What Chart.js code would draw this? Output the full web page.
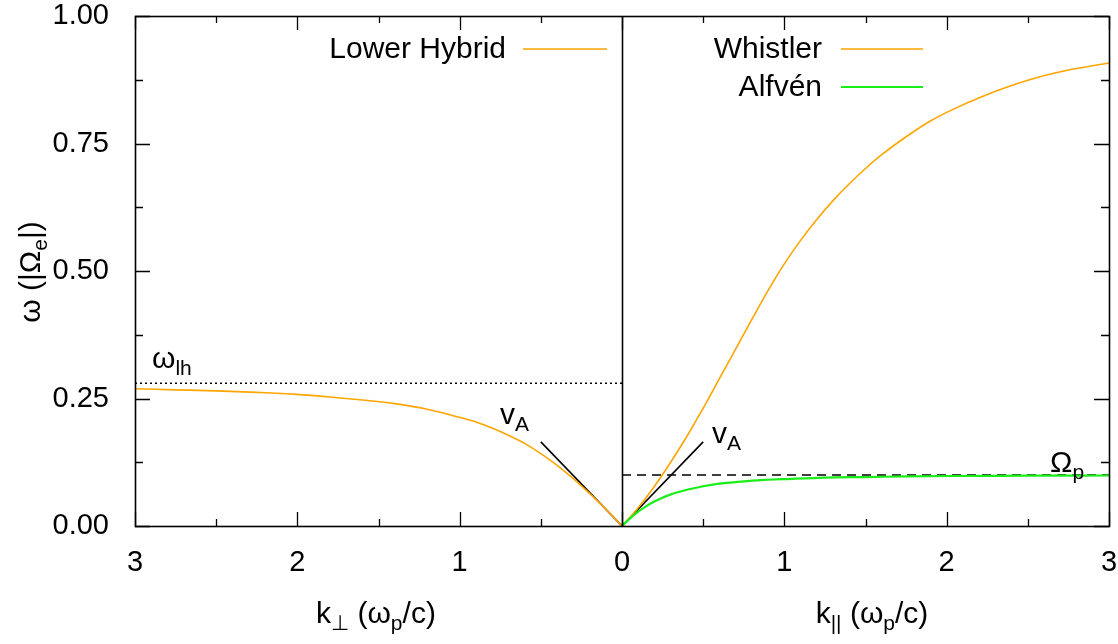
<!DOCTYPE html>
<html lang="en">
<head>
  <meta charset="UTF-8">
  <title>Plasma wave dispersion</title>
  <script src="https://cdn.jsdelivr.net/npm/chart.js@4"></script>
  <style>
    html, body { margin: 0; padding: 0; background: #fff; }
    .wrap { position: relative; width: 1118px; height: 644px; }
  </style>
</head>
<body>
  <div class="wrap"><canvas id="disp"></canvas></div>

  <script>
    // perpendicular branch, drawn on the left half (k mirrored to negative x)
    const kPerp = [0, 0.1, 0.2, 0.3, 0.4, 0.5, 0.6, 0.7, 0.8, 0.9, 1.0, 1.2, 1.4, 1.6, 1.8, 2.0, 2.25, 2.5, 2.75, 3.0];
    const lowerHybrid = [0, 0.033, 0.064, 0.093, 0.119, 0.142, 0.162, 0.178, 0.192, 0.204, 0.213, 0.229, 0.240, 0.247, 0.253, 0.258, 0.262, 0.265, 0.267, 0.269];

    // parallel branches, right half
    const kParW = [0, 0.1, 0.2, 0.3, 0.4, 0.5, 0.6, 0.7, 0.8, 0.9, 1.0, 1.1, 1.2, 1.3, 1.4, 1.5, 1.6, 1.7, 1.8, 1.9, 2.0, 2.25, 2.5, 2.75, 3.0];
    const whistler = [0, 0.036, 0.078, 0.125, 0.176, 0.231, 0.289, 0.347, 0.405, 0.462, 0.514, 0.560, 0.601, 0.638, 0.671, 0.701, 0.728, 0.752, 0.774, 0.794, 0.811, 0.846, 0.874, 0.894, 0.908];

    const kParA = [0, 0.05, 0.1, 0.15, 0.2, 0.3, 0.4, 0.5, 0.6, 0.7, 0.8, 0.9, 1.0, 1.25, 1.5, 1.75, 2.0, 2.5, 3.0];
    const alfven = [0, 0.015, 0.028, 0.039, 0.048, 0.062, 0.071, 0.078, 0.083, 0.086, 0.089, 0.0907, 0.092, 0.095, 0.096, 0.0972, 0.098, 0.0986, 0.099];

    // reference levels and the Alfvén-speed slope segments
    const omegaLH = 0.28;
    const omegaP = 0.1;
    const vAk = [0, 0.5];
    const vAw = [0, 0.165];

    const xRange = [-3, 3];
    const yRange = [0, 1];

    const FONT = '"Liberation Sans", Arial, Helvetica, sans-serif';
    const FS = 30;      // legend, labels, titles
    const TICK_FS = 29; // tick numbers
    const ORANGE = '#ffa500';
    const GREEN = '#19ee19';

    const pts = (xs, ys, sign) => xs.map((x, i) => ({ x: sign * x, y: ys[i] }));

    // text with optional subscripts: parts = [[text, isSub], ...]
    function richWidth(ctx, parts) {
      let w = 0;
      parts.forEach(([t, sub]) => {
        ctx.font = (sub ? Math.round(FS * 0.7) : FS) + 'px ' + FONT;
        w += ctx.measureText(t).width;
      });
      return w;
    }
    function drawRich(ctx, x, y, parts, align) {
      ctx.save();
      ctx.textBaseline = 'alphabetic';
      ctx.textAlign = 'left';
      ctx.fillStyle = '#000';
      let cx = x;
      if (align === 'center') cx -= richWidth(ctx, parts) / 2;
      if (align === 'right') cx -= richWidth(ctx, parts);
      parts.forEach(([t, sub]) => {
        ctx.font = (sub ? Math.round(FS * 0.7) : FS) + 'px ' + FONT;
        ctx.fillText(t, cx, sub ? y + 7 : y);
        cx += ctx.measureText(t).width;
      });
      ctx.restore();
    }

    const framePlugin = {
      id: 'frame',
      afterDraw(chart) {
        const { ctx, chartArea: a, scales: { x, y } } = chart;
        ctx.save();
        ctx.strokeStyle = '#000';
        ctx.lineWidth = 1.3;

        // x ticks (inward, mirrored on top); integers long, halves short
        for (let v = xRange[0]; v <= xRange[1] + 1e-9; v += 0.5) {
          const px = Math.round(x.getPixelForValue(v)) + 0.5;
          const len = Number.isInteger(v) ? 14 : 7;
          ctx.beginPath();
          ctx.moveTo(px, a.bottom); ctx.lineTo(px, a.bottom - len);
          ctx.moveTo(px, a.top); ctx.lineTo(px, a.top + len);
          ctx.stroke();
        }
        // y ticks (inward, mirrored on right)
        for (let v = yRange[0]; v <= yRange[1] + 1e-9; v += 0.125) {
          const py = Math.round(y.getPixelForValue(v)) + 0.5;
          const len = (Math.round(v * 8) % 2 === 0) ? 15 : 8;
          ctx.beginPath();
          ctx.moveTo(a.left, py); ctx.lineTo(a.left + len, py);
          ctx.moveTo(a.right, py); ctx.lineTo(a.right - len, py);
          ctx.stroke();
        }

        // k = 0 divider
        const x0 = Math.round(x.getPixelForValue(0)) + 0.5;
        ctx.lineWidth = 1.6;
        ctx.beginPath();
        ctx.moveTo(x0, a.top); ctx.lineTo(x0, a.bottom);
        ctx.stroke();

        // border
        ctx.lineWidth = 1.6;
        ctx.strokeRect(Math.round(a.left) + 0.5, Math.round(a.top) + 0.5,
          Math.round(a.right - a.left), Math.round(a.bottom - a.top));

        // legend, gnuplot style: label right-aligned, then a line sample
        const leg = [
          { text: 'Lower Hybrid', color: ORANGE, tx: 506, lx: [523, 607], y: 49, w: 1.6 },
          { text: 'Whistler', color: ORANGE, tx: 822, lx: [841, 923], y: 49, w: 1.6 },
          { text: 'Alfvén', color: GREEN, tx: 822, lx: [841, 923], y: 87, w: 2.2 }
        ];
        leg.forEach(l => {
          ctx.font = FS + 'px ' + FONT;
          ctx.fillStyle = '#000';
          ctx.textAlign = 'right';
          ctx.textBaseline = 'middle';
          ctx.fillText(l.text, l.tx, l.y + 1);
          ctx.strokeStyle = l.color;
          ctx.lineWidth = l.w;
          ctx.beginPath();
          ctx.moveTo(l.lx[0], l.y); ctx.lineTo(l.lx[1], l.y);
          ctx.stroke();
        });

        // annotations
        drawRich(ctx, 152, 368, [['ω', false], ['lh', true]]);
        drawRich(ctx, 500, 424, [['v', false], ['A', true]]);
        drawRich(ctx, 712, 443, [['v', false], ['A', true]]);
        drawRich(ctx, 1050, 472, [['Ω', false], ['p', true]]);

        // axis titles
        drawRich(ctx, 376, 623, [['k', false], ['⊥', true], [' (ω', false], ['p', true], ['/c)', false]], 'center');
        drawRich(ctx, 872, 623, [['k', false], ['||', true], [' (ω', false], ['p', true], ['/c)', false]], 'center');
        ctx.save();
        ctx.translate(40, 272);
        ctx.rotate(-Math.PI / 2);
        drawRich(ctx, 0, 0, [['ω (|Ω', false], ['e', true], ['|)', false]], 'center');
        ctx.restore();

        ctx.restore();
      }
    };

    new Chart(document.getElementById('disp'), {
      type: 'line',
      data: {
        datasets: [
          { label: 'Alfvén', data: pts(kParA, alfven, 1), borderColor: GREEN, borderWidth: 2.2, order: 0 },
          { label: 'Whistler', data: pts(kParW, whistler, 1), borderColor: ORANGE, borderWidth: 1.6, order: 1 },
          { label: 'Lower Hybrid', data: pts(kPerp, lowerHybrid, -1), borderColor: ORANGE, borderWidth: 1.6, order: 1 },
          { label: 'vA left', data: pts(vAk, vAw, -1), borderColor: '#000', borderWidth: 1.6, order: 2 },
          { label: 'vA right', data: pts(vAk, vAw, 1), borderColor: '#000', borderWidth: 1.6, order: 2 },
          { label: 'omega_lh', data: [{ x: xRange[0], y: omegaLH }, { x: 0, y: omegaLH }],
            borderColor: '#000', borderWidth: 1.5, borderDash: [2, 3], order: 3 },
          { label: 'Omega_p', data: [{ x: 0, y: omegaP }, { x: xRange[1], y: omegaP }],
            borderColor: '#000', borderWidth: 1.5, borderDash: [9, 6], order: 3 }
        ]
      },
      options: {
        responsive: true,
        maintainAspectRatio: false,
        animation: false,
        elements: {
          point: { radius: 0, hoverRadius: 0 },
          line: { cubicInterpolationMode: 'monotone', fill: false }
        },
        layout: { padding: { top: 16, right: 9, left: 0, bottom: 0 } },
        plugins: { legend: { display: false }, tooltip: { enabled: false } },
        scales: {
          x: {
            type: 'linear',
            min: xRange[0], max: xRange[1],
            grid: { display: false },
            border: { display: false },
            ticks: {
              stepSize: 1,
              padding: 12,
              color: '#000',
              font: { family: FONT, size: TICK_FS },
              callback: v => String(Math.abs(v))
            },
            afterFit: s => { s.height = 118; s.paddingLeft = 0; s.paddingRight = 0; }
          },
          y: {
            type: 'linear',
            min: yRange[0], max: yRange[1],
            grid: { display: false },
            border: { display: false },
            ticks: {
              stepSize: 0.25,
              padding: 18,
              color: '#000',
              font: { family: FONT, size: TICK_FS },
              callback: v => v.toFixed(2)
            },
            afterFit: s => { s.width = 135; s.paddingTop = 0; s.paddingBottom = 0; }
          }
        }
      },
      plugins: [framePlugin]
    });
  </script>
</body>
</html>
